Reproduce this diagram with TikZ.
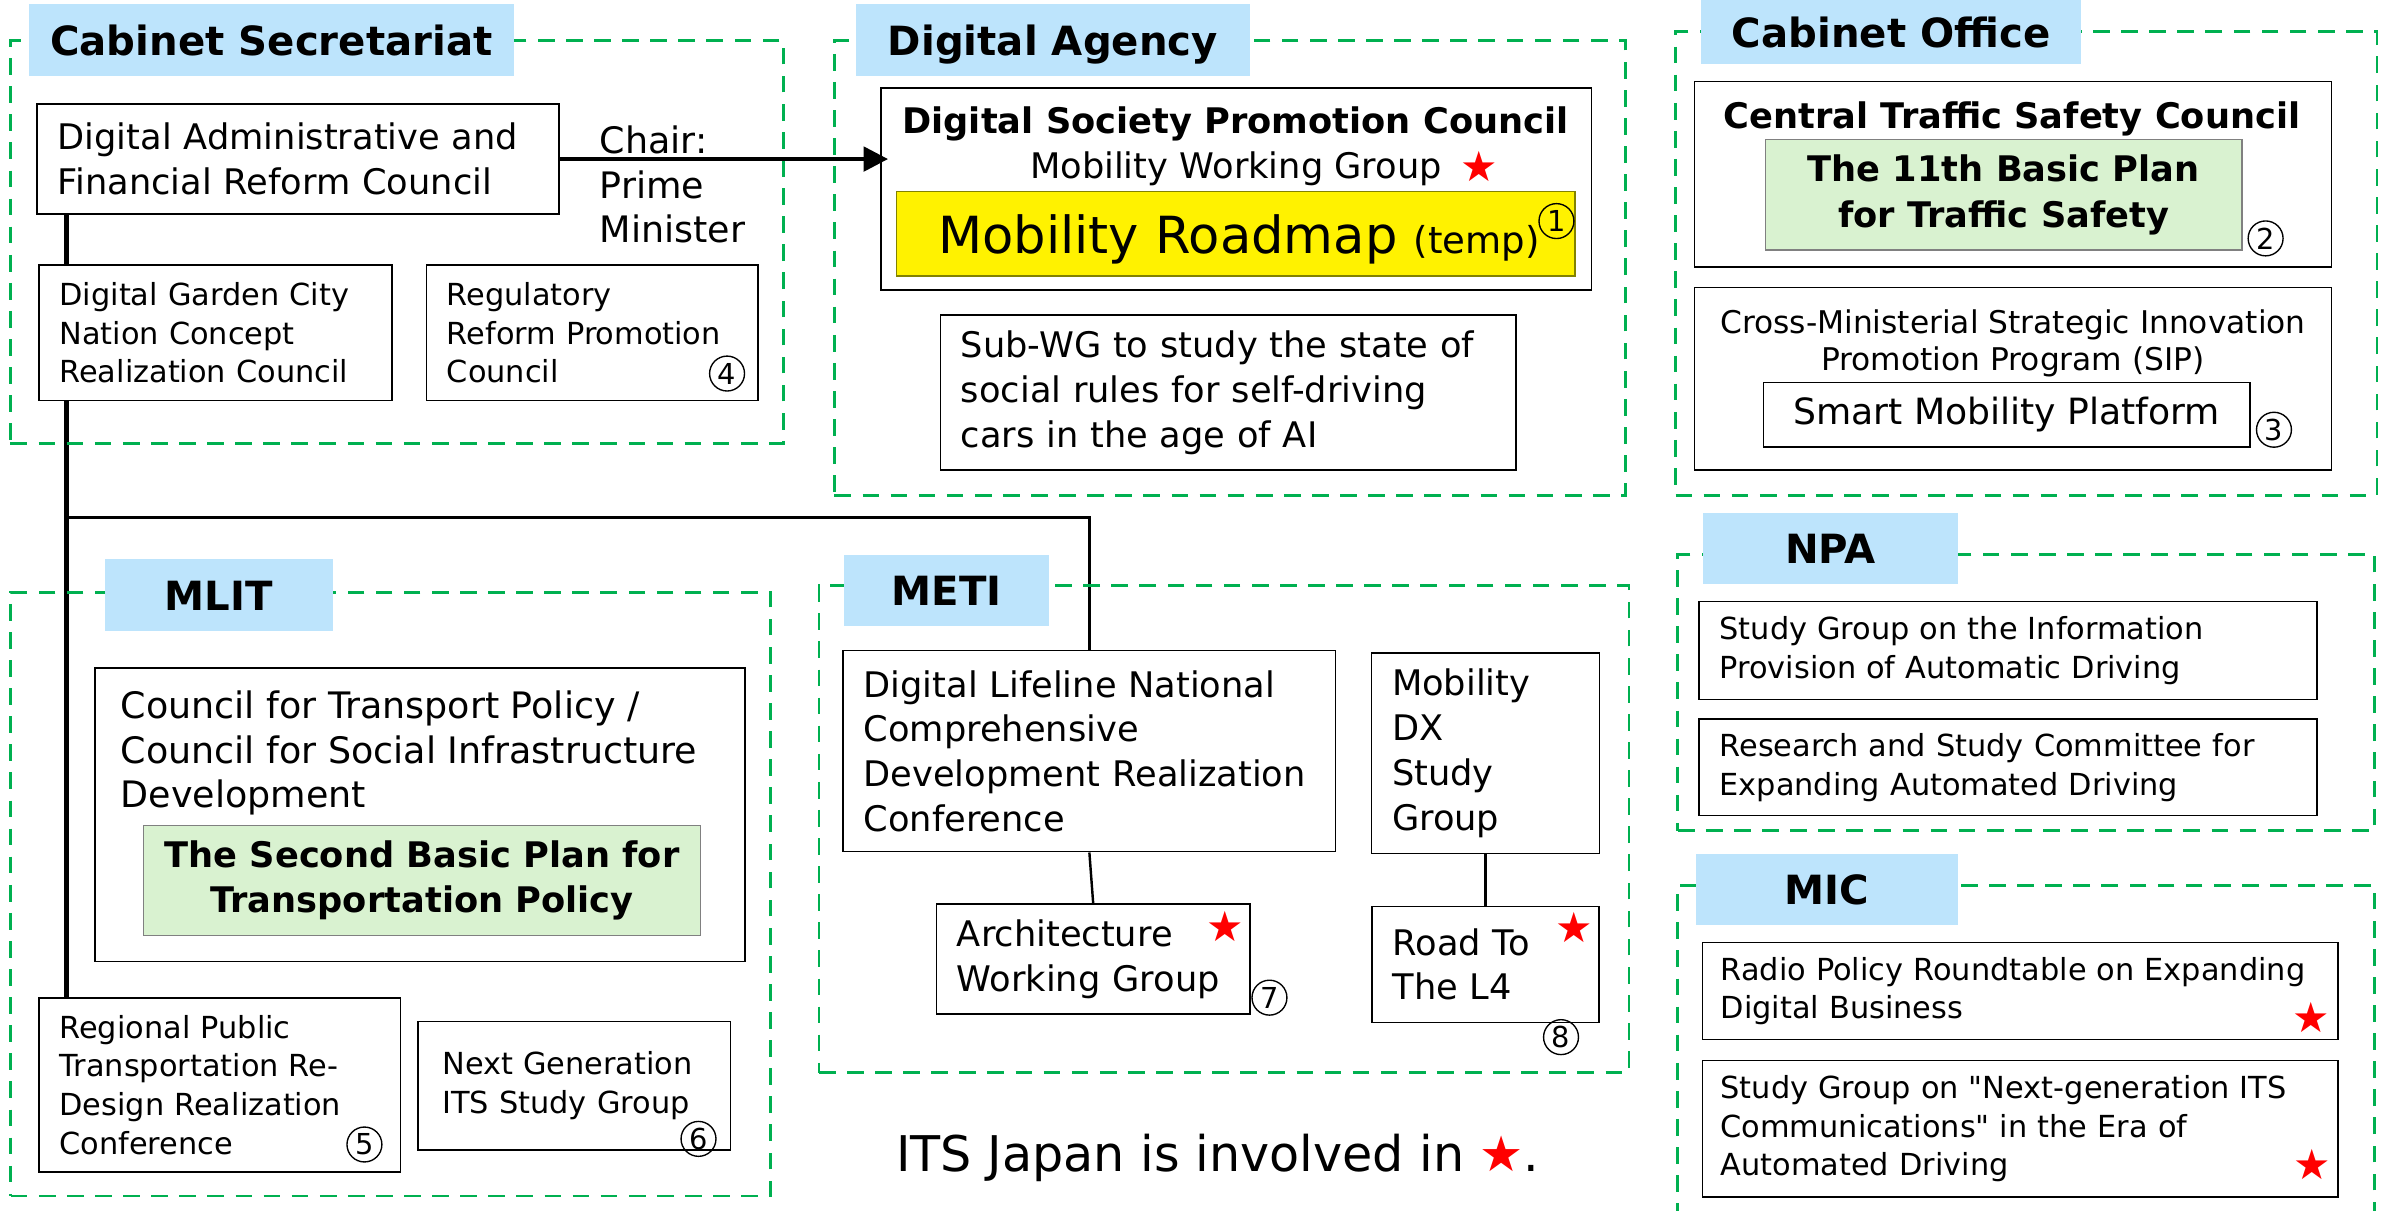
\documentclass[tikz,border=0pt]{standalone}
\usepackage{fontspec}
\setmainfont{DejaVu Sans}[Ligatures=TeXOff]
\usetikzlibrary{positioning}
\usetikzlibrary{arrows.meta}
\usetikzlibrary{backgrounds}

\definecolor{headblue}{RGB}{189,228,252}
\definecolor{groupgreen}{RGB}{0,176,80}
\definecolor{planbg}{RGB}{217,242,208}
\definecolor{planedge}{RGB}{128,128,128}
\definecolor{roadedge}{RGB}{130,130,0}

\newcommand\fhead{\bfseries\fontsize{26.5}{31}\selectfont}
\newcommand\fbody{\fontsize{23.2}{29.5}\selectfont}
\newcommand\fbig{\fontsize{24}{29.3}\selectfont}
\newcommand\fsmall{\fontsize{20}{25.5}\selectfont}
\newcommand\ftitle{\bfseries\fontsize{23.2}{29.7}\selectfont}
\newcommand\fstar{\fontsize{27.5}{30}\selectfont}
\newcommand\fnum{\fontsize{19}{20}\selectfont}

\begin{document}
\begin{tikzpicture}[x=1pt, y=-1pt,
  box/.style={draw, fill=white, line width=1pt, anchor=north west, inner xsep=13.5pt, inner ysep=0pt, align=left, font=\fbody},
  group/.style={draw=groupgreen, line width=1.8pt, dash pattern=on 11pt off 7.5pt, anchor=north west, inner sep=0pt},
  head/.style={fill=headblue, anchor=north west, inner sep=0pt, font=\fhead, text height=20pt, text depth=0pt},
  plan/.style={draw=planedge, fill=planbg, line width=1pt, anchor=north west, inner sep=0pt, align=center, font=\ftitle},
  itsstar/.style={text=red, font=\fstar, inner sep=0pt},
  circnum/.style={circle, draw, line width=0.9pt, minimum size=23pt, inner sep=0pt, font=\fnum},
  trunk/.style={line width=3.3pt},
  link/.style={line width=2.2pt}]

  \useasboundingbox (0,0) rectangle (1568,797);

  \node[group, minimum width=509, minimum height=265.3] (cs) at (6,25.7) {};
  \node[group, minimum width=521, minimum height=299.6] (da) at (548.6,25.7) {};
  \node[group, minimum width=462, minimum height=305.5] (co) at (1102.5,19.8) {};
  \node[group, minimum width=459, minimum height=181.8] (npa) at (1104,364.3) {};
  \node[group, minimum width=459, minimum height=260] (mic) at (1104,582) {};
  \node[group, minimum width=500.3, minimum height=397.7] (mlit) at (6.2,389.1) {};
  \node[group, minimum width=533.4, minimum height=320.8] (meti) at (538.4,384.6) {};

  \node[head, minimum width=319, minimum height=47.4] (cshead) at (19,2.6) {Cabinet Secretariat};
  \node[head, minimum width=259.3, minimum height=47.4] (dahead) at (563.5,2.6) {Digital Agency};
  \node[head, minimum width=250.5, minimum height=41.7] (cohead) at (1120,0) {Cabinet Office};
  \node[head, minimum width=167.5, minimum height=46.9] (npahead) at (1121.5,337.7) {NPA};
  \node[head, minimum width=172.2, minimum height=46.9] (michead) at (1116.8,562) {MIC};
  \node[head, minimum width=149.7, minimum height=47.4] (mlithead) at (69.1,368) {MLIT};
  \node[head, minimum width=135, minimum height=46.9] (metihead) at (555.8,365.2) {METI};

  \node[box, minimum width=343.5, minimum height=72.5, text width=316.5] (admin) at (24,68) {Digital Administrative and\\Financial Reform Council};
  \node[anchor=north west, align=left, font=\fbig] (chair) at (391.5,79.5) {Chair:\\Prime\\Minister};
  \node[box, font=\fsmall, minimum width=232.3, minimum height=89.4, text width=205.3] (garden) at (25.2,174) {Digital Garden City\\Nation Concept\\Realization Council};
  \node[box, font=\fsmall, minimum width=218.5, minimum height=89.4, text width=191.5, right=21.8pt of garden] (regul) {Regulatory\\Reform Promotion\\Council};
  \node[circnum] (n4) at (478.8,246) {4};

  \node[box, minimum width=467.7, minimum height=133] (dspc) at (579.8,57.5) {};
  \node[anchor=base, font=\ftitle] (dspctitle) at (813.6,87.8) {Digital Society Promotion Council};
  \node[anchor=base west, font=\fbody] (mwg) at (674.8,117.4) {Mobility Working Group};
  \node[itsstar] (wgstar) at (974,109.8) {★};
  \node[box, fill=yellow, draw=roadedge, minimum width=446.8, minimum height=55.5] (roadmap) at (590,125.6) {};
  \node[anchor=base west, font={\fontsize{33.7}{36}\selectfont}] (roadtxt) at (614.3,166.8) {Mobility Roadmap {\fontsize{24.4}{26}\selectfont(temp)}};
  \node[circnum] (n1) at (1025,145.6) {1};
  \node[box, minimum width=379.2, minimum height=102, text width=352.2] (subwg) at (618.8,207) {Sub-WG to study the state of\\social rules for self-driving\\cars in the age of AI};

  \node[box, minimum width=419.4, minimum height=121.9] (central) at (1115.4,53.3) {};
  \node[anchor=base, font=\ftitle] (centraltitle) at (1325,84.5) {Central Traffic Safety Council};
  \node[plan, minimum width=314, minimum height=72.7] (plan11) at (1162,91.5) {The 11th Basic Plan\\for Traffic Safety};
  \node[circnum] (n2) at (1492,157) {2};
  \node[box, minimum width=419.4, minimum height=120.3, below=12.5pt of central] (sip) {};
  \node[below=11.6pt of sip.north, align=center, font={\fontsize{20.6}{24.3}\selectfont}] (siptxt) {Cross-Ministerial Strategic Innovation\\Promotion Program (SIP)};
  \node[box, align=center, inner xsep=0pt, font={\fontsize{23.8}{28}\selectfont}, minimum width=320.5, minimum height=42.4] (smart) at (1160.8,251.3) {Smart Mobility Platform};
  \node[circnum] (n3) at (1497.5,283) {3};

  \node[box, font=\fsmall, minimum width=407.1, minimum height=64.3, text width=380.1] (npa1) at (1118.4,395.7) {Study Group on the Information\\Provision of Automatic Driving};
  \node[box, font=\fsmall, minimum width=407.1, minimum height=63.6, text width=380.1, below=12pt of npa1] (npa2) {Research and Study Committee for\\Expanding Automated Driving};

  \node[box, font=\fsmall, inner xsep=12pt, minimum width=418.7, minimum height=64, text width=394.7] (mic1) at (1120.6,620.2) {Radio Policy Roundtable on Expanding\\Digital Business};
  \node[itsstar] (mic1star) at (1522,670) {★};
  \node[box, font=\fsmall, inner xsep=12pt, minimum width=418.7, minimum height=89.8, text width=394.7, below=12.8pt of mic1] (mic2) {Study Group on "Next-generation ITS\\Communications" in the Era of\\Automated Driving};
  \node[itsstar] (mic2star) at (1523,766.7) {★};

  \node[box, minimum width=428, minimum height=193.5] (council) at (62.2,439.3) {};
  \node[below right=12.3pt and 13.8pt of council.north west, align=left, font=\fbig] (counciltxt) {Council for Transport Policy /\\Council for Social Infrastructure\\Development};
  \node[plan, minimum width=366.8, minimum height=72.6] (plan2) at (94,543.1) {The Second Basic Plan for\\Transportation Policy};
  \node[box, font=\fsmall, minimum width=238.2, minimum height=114.5, text width=211.2] (regional) at (25.2,656.7) {Regional Public\\Transportation Re-\\Design Realization\\Conference};
  \node[circnum] (n5) at (240,753.7) {5};
  \node[box, font=\fsmall, inner xsep=16pt, minimum width=205.7, minimum height=84.6, text width=173.7] (nextgen) at (274.8,672.3) {Next Generation\\ITS Study Group};
  \node[circnum] (n6) at (460,750) {6};

  \node[box, minimum width=324.4, minimum height=132.4, text width=297.4] (lifeline) at (554.7,428) {Digital Lifeline National\\Comprehensive\\Development Realization\\Conference};
  \node[box, minimum width=150.2, minimum height=132.1, text width=123.2] (mdx) at (902.7,429.5) {Mobility\\DX\\Study\\Group};
  \node[box, minimum width=206.4, minimum height=72.4, text width=179.4] (arch) at (616.2,594.8) {Architecture\\Working Group};
  \node[itsstar] (archstar) at (807,610) {★};
  \node[circnum] (n7) at (836,657) {7};
  \node[box, minimum width=149.5, minimum height=76.3, text width=122.5, below=33.8pt of mdx] (road) {Road To\\The L4};
  \node[itsstar] (roadstar) at (1037,611) {★};
  \node[circnum] (n8) at (1028,683) {8};

  \node[anchor=base west, font={\fontsize{32.4}{36}\selectfont}] (itsnote) at (586.6,771.2) {ITS Japan is involved in {\color{red}★}.};

  \begin{scope}[on background layer]
    \coordinate (tx) at (43.9,0);
    \coordinate (fork) at (43.9,340.7);
    \draw[trunk] (admin.south -| tx) -- (regional.north -| tx);
    \draw[link] (fork) -| (lifeline.north);
    \draw[line width=1.6pt] (lifeline.south) -- (arch.north);
    \draw[link] (mdx.south) -- (road.north);
  \end{scope}
  \draw[line width=2.6pt, -{Triangle[length=16pt, width=16pt]}, shorten >=-5pt] (admin.east) -- (admin.east -| dspc.west);

\end{tikzpicture}
\end{document}
